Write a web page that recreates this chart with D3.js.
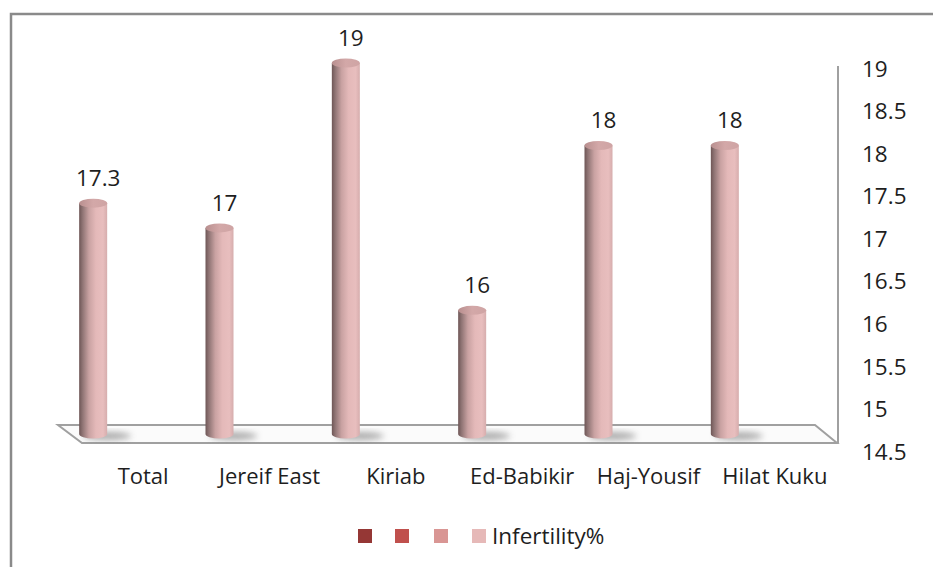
<!DOCTYPE html>
<html>
<head>
<meta charset="utf-8">
<script src="https://cdn.jsdelivr.net/npm/d3@7"></script>
<style>
  body { margin: 0; background: #fff; }
  svg text { font-family: "Open Sans", "Noto Sans", sans-serif; fill: #1e1e1e; }
</style>
</head>
<body>
<div id="graph"></div>
<script>
const categories = ['Total', 'Jereif East', 'Kiriab', 'Ed-Babikir', 'Haj-Yousif', 'Hilat Kuku'];
const infertility = [17.3, 17, 19, 16, 18, 18];
const valueLabels = ['17.3', '17', '19', '16', '18', '18'];
const yTicks = [14.5, 15, 15.5, 16, 16.5, 17, 17.5, 18, 18.5, 19];
const legendNames = ['', '', '', 'Infertility%'];
const legendColors = ['#953735', '#c0504d', '#d99694', '#e6b9b8'];

const width = 933, height = 567;

const svg = d3.select('#graph').append('svg')
    .attr('width', width)
    .attr('height', height);

const defs = svg.append('defs');

// cylinder shading
const grad = defs.append('linearGradient').attr('id', 'cyl')
    .attr('x1', '0%').attr('x2', '100%').attr('y1', '0%').attr('y2', '0%');
[[0, '#6e5656'], [0.12, '#8f7474'], [0.35, '#c9a2a2'], [0.6, '#e4b9b9'], [0.85, '#e8bebe'], [1, '#d6adad']]
    .forEach(s => grad.append('stop').attr('offset', s[0]).attr('stop-color', s[1]));

const topGrad = defs.append('linearGradient').attr('id', 'cyltop')
    .attr('x1', '0%').attr('x2', '100%');
[[0, '#b88f8f'], [0.5, '#d3a8a8'], [1, '#cfa4a4']]
    .forEach(s => topGrad.append('stop').attr('offset', s[0]).attr('stop-color', s[1]));

defs.append('filter').attr('id', 'blur')
    .attr('x', '-50%').attr('y', '-50%').attr('width', '200%').attr('height', '200%')
  .append('feGaussianBlur').attr('stdDeviation', 3);

// outer frame
svg.append('rect')
    .attr('x', 11).attr('y', 14)
    .attr('width', 1000).attr('height', 1000)
    .attr('fill', 'none')
    .attr('stroke', '#8a8a8a')
    .attr('stroke-width', 2.5);

// scales: back plane for bars, front plane for labels
const xBack = d3.scaleBand().domain(categories).range([30, 788]);
const xFront = d3.scaleBand().domain(categories).range([80, 838]);
const yBar = d3.scaleLinear().domain([14.5, 19]).range([434, 63]);
const yAxisScale = d3.scaleLinear().domain([14.5, 19]).range([452, 69]);

const barW = 28, ry = 4.5;
const cx = c => xBack(c) + xBack.bandwidth() / 2;

// floor
const floorBack = yBar(14.5) - 9, floorFront = yBar(14.5) + 9;
svg.append('path')
    .attr('d', `M58,${floorBack} L815,${floorBack} L837,${floorFront} L82,${floorFront} Z`)
    .attr('fill', '#fbfbfb')
    .attr('stroke', '#a0a0a0')
    .attr('stroke-width', 2);

// right axis line
svg.append('line')
    .attr('x1', 838).attr('x2', 838)
    .attr('y1', 66).attr('y2', floorFront)
    .attr('stroke', '#a0a0a0')
    .attr('stroke-width', 2);

const yAxis = svg.append('g')
    .attr('transform', 'translate(856,0)')
    .call(d3.axisRight(yAxisScale).tickValues(yTicks).tickSize(0).tickPadding(6).tickFormat(d3.format('')));
yAxis.select('.domain').remove();
yAxis.selectAll('text')
    .style('font-family', '"Open Sans", sans-serif')
    .style('font-size', '22.5px')
    .attr('fill', '#1e1e1e');

// shadows
svg.append('g').selectAll('ellipse')
    .data(categories).enter()
    .append('ellipse')
        .attr('cx', d => cx(d) + 14)
        .attr('cy', yBar(14.5) + 2)
        .attr('rx', 24)
        .attr('ry', 4)
        .attr('fill', '#8a8a8a')
        .attr('opacity', 0.7)
        .attr('filter', 'url(#blur)');

// cylinders
const bars = svg.append('g').selectAll('g')
    .data(categories.map((c, i) => ({ c: c, v: infertility[i], label: valueLabels[i] })))
    .enter().append('g');

bars.append('path')
    .attr('d', d => {
        const x0 = cx(d.c) - barW / 2, x1 = cx(d.c) + barW / 2;
        const yt = yBar(d.v), yb = yBar(14.5);
        return `M${x0},${yt} L${x0},${yb} A${barW / 2},${ry} 0 0 0 ${x1},${yb} L${x1},${yt} Z`;
    })
    .attr('fill', 'url(#cyl)');

bars.append('ellipse')
    .attr('cx', d => cx(d.c))
    .attr('cy', d => yBar(d.v))
    .attr('rx', barW / 2)
    .attr('ry', ry)
    .attr('fill', 'url(#cyltop)');

bars.append('text')
    .attr('x', d => cx(d.c) + 5)
    .attr('y', d => yBar(d.v) - 25)
    .attr('dy', '0.35em')
    .attr('text-anchor', 'middle')
    .style('font-size', '22.5px')
    .text(d => d.label);

// category labels
svg.append('g').selectAll('text')
    .data(categories).enter()
    .append('text')
        .attr('x', d => xFront(d) + xFront.bandwidth() / 2)
        .attr('y', 476)
        .attr('dy', '0.35em')
        .attr('text-anchor', 'middle')
        .style('font-size', '22px')
        .text(d => d);

// legend
const legendX = [365, 402, 441, 479];
const legend = svg.append('g');
legend.selectAll('rect')
    .data(legendColors).enter()
    .append('rect')
        .attr('x', (d, i) => legendX[i] - 7)
        .attr('y', 529)
        .attr('width', 14)
        .attr('height', 14)
        .attr('fill', d => d);
legend.selectAll('text')
    .data(legendNames).enter()
    .append('text')
        .attr('x', (d, i) => legendX[i] + 13)
        .attr('y', 536)
        .attr('dy', '0.35em')
        .style('font-size', '22.5px')
        .text(d => d);
</script>
</body>
</html>
